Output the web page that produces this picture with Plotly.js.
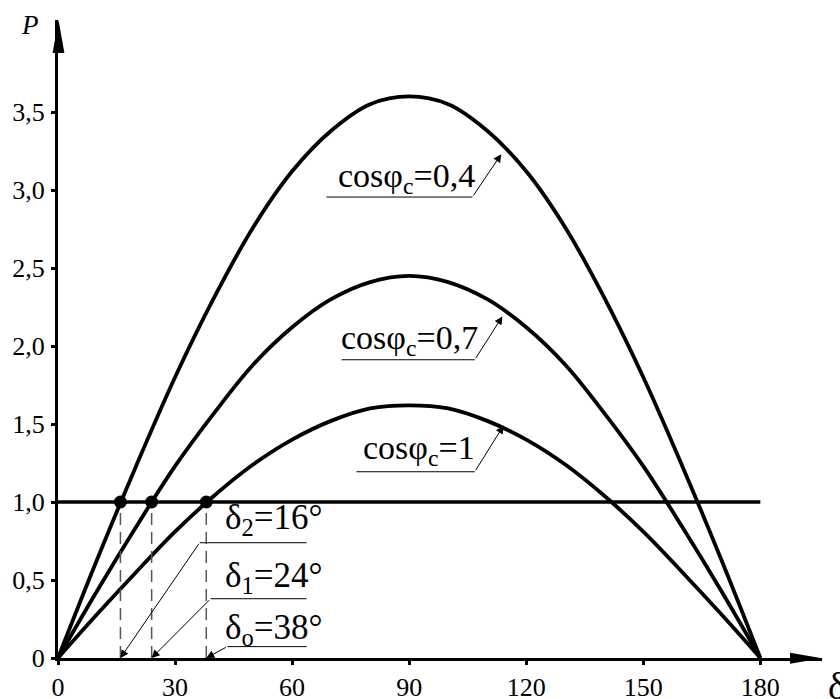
<!DOCTYPE html>
<html>
<head>
<meta charset="utf-8">
<script src="https://cdn.plot.ly/plotly-3.0.1.min.js"></script>
<style>html,body{margin:0;padding:0;background:#fff}</style>
</head>
<body>
<div id="chart" style="width:840px;height:699px"></div>
<script>
// Load angle δ, degrees
const delta = [0,10,20,30,40,50,60,70,80,90,100,110,120,130,140,150,160,170,180];
// Active power P for three power factors
const pCos04 = [0,0.63,1.23,1.80,2.31,2.76,3.12,3.38,3.55,3.60,3.55,3.38,3.12,2.76,2.31,1.80,1.23,0.63,0];
const pCos07 = [0,0.43,0.84,1.23,1.57,1.88,2.12,2.30,2.41,2.45,2.41,2.30,2.12,1.88,1.57,1.23,0.84,0.43,0];
const pCos10 = [0,0.28,0.55,0.81,1.04,1.24,1.40,1.52,1.60,1.62,1.60,1.52,1.40,1.24,1.04,0.81,0.55,0.28,0];
// Load level
const loadX = [0,180];
const loadP = [1.0,1.0];
// Operating angles where the load line crosses each curve
const opAngles = [16,24,38];
const opLabels = ['δ<sub>2</sub>=16°','δ<sub>1</sub>=24°','δ<sub>o</sub>=38°'];
const curveLabels = ['cosφ<sub>c</sub>=0,4','cosφ<sub>c</sub>=0,7','cosφ<sub>c</sub>=1'];
// Axis ticks
const xTicks = [0,30,60,90,120,150,180];
const yTicks = [0,0.5,1.0,1.5,2.0,2.5,3.0,3.5];
const yTickText = ['0','0,5','1,0','1,5','2,0','2,5','3,0','3,5'];

const FONT = 'Liberation Serif, Times New Roman, serif';
const M = {l:58, r:18, t:20, b:41};
const W = 840, H = 699;
const PW = W - M.l - M.r, PH = H - M.t - M.b;
const X_MAX = 195.8, Y_MAX = 4.09;

// pixel -> paper helpers for axis arrowheads
const px = v => (v - M.l) / PW;
const py = v => (H - M.b - v) / PH;

const traces = [];
[pCos04, pCos07, pCos10].forEach(p => traces.push({
  x: delta, y: p, type: 'scatter', mode: 'lines',
  line: {color: '#000', width: 3.8, shape: 'spline', smoothing: 1},
  hoverinfo: 'skip', showlegend: false
}));
traces.push({x: loadX, y: loadP, mode: 'lines', line: {color: '#000', width: 3.4}, showlegend: false});
opAngles.forEach(a => traces.push({
  x: [a, a], y: [0, loadP[0]], mode: 'lines',
  line: {color: '#555', width: 1.5, dash: '12px,7px'}, showlegend: false
}));
traces.push({
  x: opAngles, y: opAngles.map(() => loadP[0]), mode: 'markers',
  marker: {color: '#000', size: 13}, showlegend: false, cliponaxis: false
});

// label placement (data units): underline span, its level, arrow tip, text spot
const curveCallouts = [
  {u: [68.8, 106.2], uy: 2.955, tip: [113.6, 3.23], tx: 89.3, ty: 3.08},
  {u: [72.7, 106.8], uy: 1.912, tip: [113.9, 2.19], tx: 90.0, ty: 2.04},
  {u: [76.5, 106.8], uy: 1.194, tip: [114.2, 1.49], tx: 92.6, ty: 1.335}
];
const angleCallouts = [
  {u: [36.3, 63.7], uy: 0.739, tx: 42.2, ty: 0.887},
  {u: [39.1, 63.7], uy: 0.380, tx: 42.2, ty: 0.515},
  {u: [43.4, 63.7], uy: 0.073, tx: 42.2, ty: 0.181}
];

const annotations = [];
curveCallouts.forEach((c, i) => {
  traces.push({x: c.u, y: [c.uy, c.uy], mode: 'lines', line: {color: '#000', width: 1}, showlegend: false});
  annotations.push({x: c.tip[0], y: c.tip[1], ax: c.u[1], ay: c.uy, axref: 'x', ayref: 'y',
    text: '', showarrow: true, arrowhead: 2, arrowsize: 1.6, arrowwidth: 1, arrowcolor: '#000'});
  annotations.push({x: c.tx, y: c.ty, text: curveLabels[i], showarrow: false,
    xanchor: 'center', yanchor: 'middle', font: {family: FONT, size: 34, color: '#000'}});
});
angleCallouts.forEach((c, i) => {
  traces.push({x: c.u, y: [c.uy, c.uy], mode: 'lines', line: {color: '#000', width: 1}, showlegend: false});
  annotations.push({x: opAngles[i], y: 0, ax: c.u[0], ay: c.uy, axref: 'x', ayref: 'y',
    text: '', showarrow: true, arrowhead: 2, arrowsize: 1.6, arrowwidth: 1, arrowcolor: '#000'});
  annotations.push({x: c.tx, y: c.ty, text: opLabels[i], showarrow: false,
    xanchor: 'left', yanchor: 'middle', font: {family: FONT, size: 35, color: '#000'}});
});
annotations.push({xref: 'paper', yref: 'paper', x: px(30), y: py(25), text: '<i>P</i>',
  showarrow: false, xanchor: 'center', yanchor: 'middle', font: {family: FONT, size: 27, color: '#000'}});
annotations.push({xref: 'paper', yref: 'paper', x: px(826), y: py(686), text: 'δ',
  showarrow: false, xanchor: 'left', yanchor: 'middle', font: {family: FONT, size: 38, color: '#000'}});

// arrowheads at the ends of both axes
const shapes = [
  {type: 'path', xref: 'paper', yref: 'paper', fillcolor: '#000', line: {width: 0},
   path: `M ${px(58.5)} ${py(20)} L ${px(52.6)} ${py(53)} L ${px(64.4)} ${py(53)} Z`},
  {type: 'path', xref: 'paper', yref: 'paper', fillcolor: '#000', line: {width: 0},
   path: `M ${px(822)} ${py(658.3)} L ${px(790)} ${py(652.8)} L ${px(790)} ${py(663.8)} Z`}
];

const axisCommon = {
  showgrid: false, zeroline: false, showline: true, linecolor: '#000', linewidth: 3,
  ticks: 'outside', ticklen: 4, tickwidth: 3, tickcolor: '#000',
  tickfont: {family: FONT, size: 26, color: '#000'}, fixedrange: true
};

const layout = {
  width: W, height: H, margin: M,
  paper_bgcolor: '#fff', plot_bgcolor: '#fff', showlegend: false,
  xaxis: Object.assign({}, axisCommon, {range: [0, X_MAX], tickvals: xTicks,
    ticktext: xTicks.map(String), ticklabelstandoff: 0}),
  yaxis: Object.assign({}, axisCommon, {range: [0, Y_MAX], tickvals: yTicks,
    ticktext: yTickText, ticklabelstandoff: 1}),
  annotations: annotations, shapes: shapes
};

Plotly.newPlot('chart', traces, layout, {staticPlot: true, displayModeBar: false});
</script>
</body>
</html>
